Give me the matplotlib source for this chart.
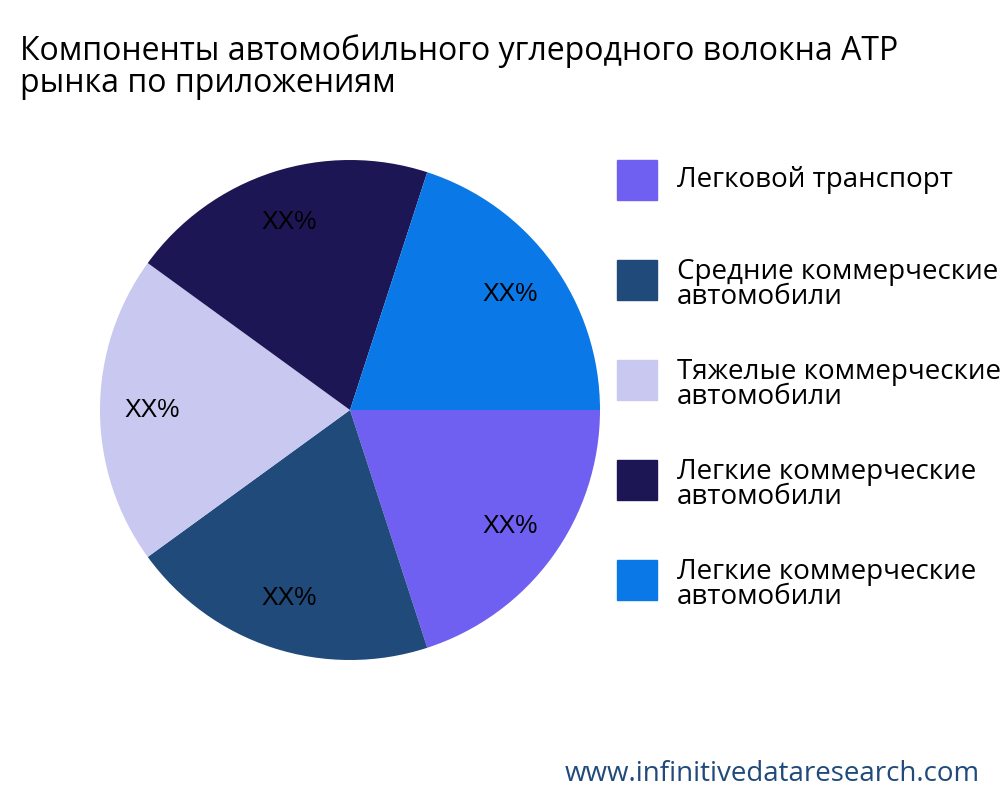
import matplotlib
matplotlib.use("Agg")
import matplotlib.pyplot as plt
from matplotlib.patches import Rectangle

plt.rcParams["font.family"] = ["Open Sans", "DejaVu Sans"]

TITLE = "Компоненты автомобильного углеродного волокна АТР\nрынка по приложениям"
CATEGORIES = [
    "Легковой транспорт",
    "Средние коммерческие\nавтомобили",
    "Тяжелые коммерческие\nавтомобили",
    "Легкие коммерческие\nавтомобили",
    "Легкие коммерческие\nавтомобили",
]
SHARES = [20, 20, 20, 20, 20]
COLORS = ["#7060F2", "#1F4A7A", "#C8C8F0", "#1C1655", "#0A78E6"]

fig = plt.figure(figsize=(10, 8), dpi=100)
ax = fig.add_axes([0.1, 0.175, 0.5, 0.625])
ax.pie(SHARES, colors=COLORS, startangle=0, counterclock=False,
       autopct=lambda p: "XX%", pctdistance=0.79,
       textprops={"fontsize": 18, "family": ["Liberation Sans", "DejaVu Sans"]})
ax.set_xlim(-1, 1)
ax.set_ylim(-1, 1)
ax.set_aspect("equal")

fig.text(0.02, 0.875, TITLE, fontsize=23, va="bottom", ha="left", linespacing=0.95)

ys = [0.75, 0.625, 0.5, 0.375, 0.25]
for y, lab, col in zip(ys, CATEGORIES, COLORS):
    fig.patches.append(Rectangle((0.617, y), 0.04, 0.05, color=col, transform=fig.transFigure))
    if "\n" in lab:
        fig.text(0.677, y + 0.053, lab, fontsize=20, va="top", ha="left", linespacing=0.9)
    else:
        fig.text(0.677, y + 0.025, lab, fontsize=20, va="center", ha="left")

fig.text(0.98, 0.015, "www.infinitivedataresearch.com", fontsize=20, color="#1F4A7A",
         ha="right", va="bottom")

fig.savefig("out.png", dpi=100)
